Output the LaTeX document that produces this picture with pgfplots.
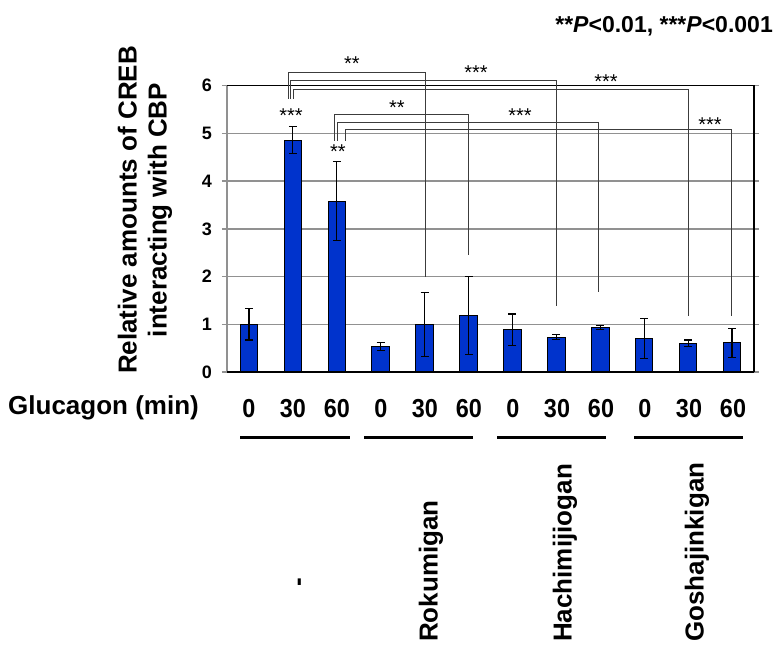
\documentclass[border=0pt]{standalone}
\usepackage{fontspec}
\setmainfont{Liberation Sans}
\newfontfamily\narrowfont[FakeStretch=0.9]{Liberation Sans}
\usepackage{pgfplots}
\usepackage{pgfplotstable}
\pgfplotsset{compat=1.18}

\definecolor{barblue}{RGB}{0,51,204}
\definecolor{gridgray}{RGB}{145,145,145}
\definecolor{brk}{RGB}{60,60,60}

% Relative CREB-CBP interaction: mean and error for each condition
\pgfplotstableread{
x  y     err
0  1.00  0.33
1  4.86  0.29
2  3.58  0.83
3  0.53  0.08
4  0.99  0.67
5  1.19  0.82
6  0.885 0.33
7  0.73  0.05
8  0.94  0.04
9  0.70  0.42
10 0.60  0.07
11 0.61  0.31
}\crebdata

\tikzset{
  star/.style={font=\fontsize{20}{22}\selectfont, anchor=base, inner sep=0pt},
  minlab/.style={font=\narrowfont\bfseries\fontsize{26}{28}\selectfont, anchor=base, inner sep=0pt},
  grouplab/.style={font=\bfseries\fontsize{26}{28}\selectfont, rotate=90, anchor=west, inner sep=0pt},
}

\begin{document}
\begin{tikzpicture}
\useasboundingbox (-227pt,-273pt) rectangle (549pt,372pt);
\begin{axis}[
  at={(0pt,0pt)}, anchor=south west,
  scale only axis, width=527pt, height=286.3pt,
  xmin=-0.5, xmax=11.5, ymin=0, ymax=6,
  clip=false,
  axis line style={draw=none},
  xtick=\empty,
  ytick={0,1,...,6},
  ymajorgrids,
  grid style={gridgray, line width=1.4pt},
  tick align=outside,
  major tick length=5pt,
  ytick style={gridgray, line width=1.4pt},
  yticklabel style={font=\bfseries\fontsize{18}{20}\selectfont, inner sep=0pt, xshift=-10pt},
  /pgf/number format/assume math mode=true,
  ybar, bar width=17.5pt,
]
\addplot[fill=barblue, draw=black, line width=1pt,
  error bars/.cd, y dir=both, y explicit,
  error bar style={black, line width=1.1pt},
  error mark options={rotate=90, mark size=4pt, black, line width=1.1pt}]
  table[x=x, y=y, y error=err] {\crebdata};

% frame
\draw[gridgray, line width=2pt] (rel axis cs:0,0) -- (rel axis cs:0,1);
\draw[black, line width=1.3pt] (rel axis cs:0,1) -- (rel axis cs:1,1) -- (rel axis cs:1,0);
\draw[black, line width=1.8pt] (rel axis cs:0,0) -- (rel axis cs:1,0);

% significance brackets
\draw[brk, line width=0.8pt] (axis cs:0.893,5.73) |- (axis cs:4.016,6.27) -- (axis cs:4.016,2.00);
\draw[brk, line width=0.8pt] (axis cs:0.948,5.73) |- (axis cs:7.007,6.115) -- (axis cs:7.007,1.39);
\draw[brk, line width=0.8pt] (axis cs:1.007,5.73) |- (axis cs:10.007,5.915) -- (axis cs:10.007,1.18);
\draw[brk, line width=0.8pt] (axis cs:1.939,4.85) |- (axis cs:4.993,5.40) -- (axis cs:4.993,2.46);
\draw[brk, line width=0.8pt] (axis cs:2.016,4.85) |- (axis cs:7.961,5.24) -- (axis cs:7.961,1.68);
\draw[brk, line width=0.8pt] (axis cs:2.190,4.85) |- (axis cs:10.980,5.09) -- (axis cs:10.980,1.18);
\end{axis}

% significance marks
\node[star] at (64pt,249.5pt) {***};
\node[star] at (111pt,213.5pt) {**};
\node[star] at (125pt,301pt) {**};
\node[star] at (249pt,292.5pt) {***};
\node[star] at (379pt,283.5pt) {***};
\node[star] at (170pt,257.5pt) {**};
\node[star] at (293pt,249.5pt) {***};
\node[star] at (483pt,240.5pt) {***};

% legend for the marks
\node[anchor=base east, inner sep=0pt, font=\bfseries\fontsize{23}{25}\selectfont]
  at (546pt,339pt) {**\textit{P}<0.01, ***\textit{P}<0.001};

% y axis title
\node[rotate=90, align=center, inner sep=0pt,
  font=\bfseries\fontsize{26}{30}\selectfont] at (-82pt,162pt)
  {Relative amounts of CREB\\interacting with CBP};

% glucagon times
\node[anchor=base west, inner sep=0pt, font=\bfseries\fontsize{26}{28}\selectfont]
  at (-219pt,-42pt) {Glucagon (min)};
\node[minlab] at (22pt,-45pt) {0};
\node[minlab] at (66pt,-45pt) {30};
\node[minlab] at (110pt,-45pt) {60};
\node[minlab] at (154pt,-45pt) {0};
\node[minlab] at (198pt,-45pt) {30};
\node[minlab] at (242pt,-45pt) {60};
\node[minlab] at (286pt,-45pt) {0};
\node[minlab] at (330pt,-45pt) {30};
\node[minlab] at (374pt,-45pt) {60};
\node[minlab] at (418pt,-45pt) {0};
\node[minlab] at (462pt,-45pt) {30};
\node[minlab] at (506pt,-45pt) {60};

% group underlines
\draw[black, line width=2.5pt] (13pt,-65.7pt) -- (123pt,-65.7pt);
\draw[black, line width=2.5pt] (137pt,-65.7pt) -- (246pt,-65.7pt);
\draw[black, line width=2.5pt] (270pt,-65.7pt) -- (379pt,-65.7pt);
\draw[black, line width=2.5pt] (407pt,-65.7pt) -- (516pt,-65.7pt);

% treatment names
\node[font=\bfseries\fontsize{26}{28}\selectfont, rotate=90, inner sep=0pt] at (75pt,-210pt) {-};
\node[grouplab] at (204pt,-270pt) {Rokumigan};
\node[grouplab] at (338pt,-270pt) {Hachimijiogan};
\node[grouplab] at (470pt,-270pt) {Goshajinkigan};
\end{tikzpicture}
\end{document}
